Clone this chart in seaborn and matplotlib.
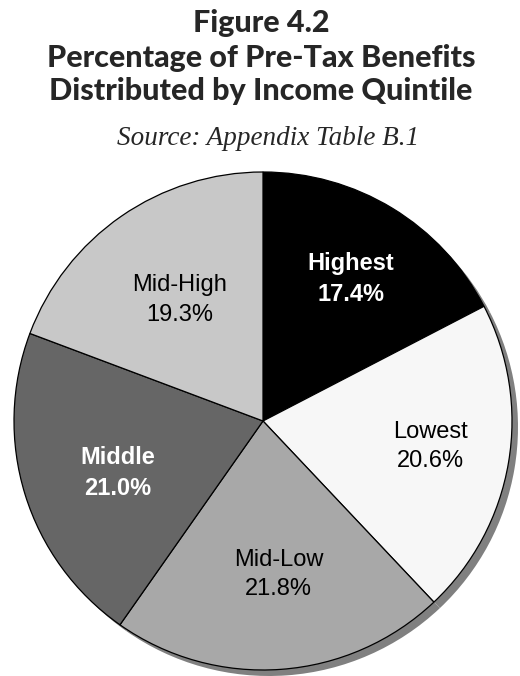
import matplotlib
matplotlib.use("Agg")
import numpy as np
import matplotlib.pyplot as plt
import seaborn as sns

# Share of pre-tax benefits by income quintile (percent), clockwise from the top
quintiles = ["Highest", "Lowest", "Mid-Low", "Middle", "Mid-High"]
shares = [17.4, 20.6, 21.8, 21.0, 19.3]
slice_colors = ["#000000", "#f7f7f7", "#a8a8a8", "#666666", "#c8c8c8"]
label_colors = ["white", "black", "black", "white", "black"]
label_weights = ["bold", "normal", "normal", "bold", "normal"]

title_lines = ["Figure 4.2", "Percentage of Pre-Tax Benefits", "Distributed by Income Quintile"]
subtitle = "Source: Appendix Table B.1"

sns.set_theme(style="white")
plt.rcParams["font.family"] = ["Liberation Sans", "DejaVu Sans"]

W, H = 520, 676
fig = plt.figure(figsize=(W / 100, H / 100), dpi=100)
fig.patch.set_facecolor("white")

# pie area: centre (263, 421) px from top, radius 249 px
cx, cy, r = 263, 421, 249
ax = fig.add_axes([(cx - r) / W, (H - cy - r) / H, 2 * r / W, 2 * r / H])

# drop shadow: same pie offset down-right, in flat grey
off = 6 / r
shadow_wedges, _ = ax.pie(shares, colors=["#808080"] * len(shares), startangle=90,
                          counterclock=False, center=(off, -off),
                          wedgeprops=dict(linewidth=0))

wedges, _ = ax.pie(shares, colors=slice_colors, startangle=90, counterclock=False,
                   wedgeprops=dict(edgecolor="black", linewidth=0.9))
for p in shadow_wedges + wedges:
    p.set_clip_on(False)

# slice labels placed along each wedge's mid-angle
label_radius = [0.67, 0.68, 0.62, 0.62, 0.59]
label_shift = [-0.5, 0.9, 1.6, 2.4, 0.0]  # degrees
for w, q, s, c, wt, rad, sh in zip(wedges, quintiles, shares, label_colors,
                                   label_weights, label_radius, label_shift):
    ang = np.deg2rad((w.theta1 + w.theta2) / 2 + sh)
    ax.text(rad * np.cos(ang), rad * np.sin(ang), f"{q}\n{s:.1f}%",
            ha="center", va="center", color=c, fontweight=wt,
            fontsize=17, linespacing=1.45)

ax.set_xlim(-1, 1)
ax.set_ylim(-1, 1)
ax.set_aspect("equal")
ax.axis("off")

# titles
title_base = [32, 67, 100]
for line, y in zip(title_lines, title_base):
    fig.text(261 / W, 1 - y / H, line, ha="center", va="baseline",
             fontsize=22, fontweight="black", family=["Lato", "DejaVu Sans"])
fig.text(268 / W, 1 - 145 / H, subtitle, ha="center", va="baseline",
         fontsize=19.5, style="italic", family=["Liberation Serif", "DejaVu Serif"])

fig.savefig("out.png", dpi=100, facecolor="white")
